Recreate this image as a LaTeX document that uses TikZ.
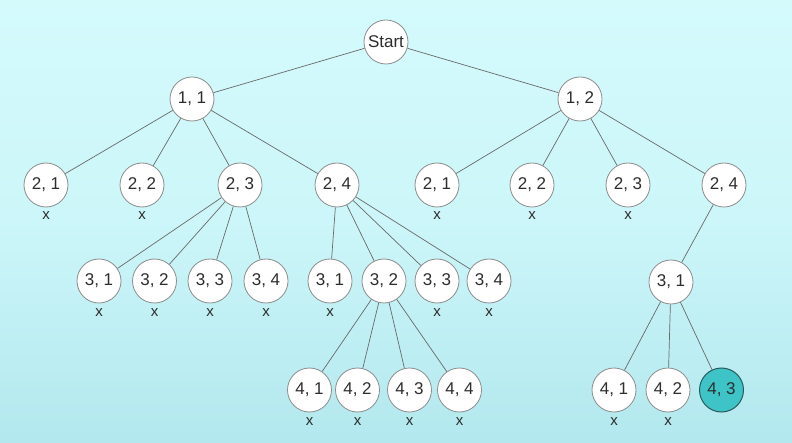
\documentclass[tikz,border=0pt]{standalone}
\usepackage{fontspec}
\setmainfont{Liberation Sans}
\definecolor{bgtop}{RGB}{212,250,252}
\definecolor{bgmid}{RGB}{204,246,249}
\definecolor{bgbot}{RGB}{178,232,238}
\definecolor{edgec}{RGB}{105,105,105}
\definecolor{nodeborder}{RGB}{140,140,140}
\definecolor{txt}{RGB}{45,45,45}
\definecolor{goalfill}{RGB}{62,196,199}
\definecolor{goalborder}{RGB}{40,90,92}
\begin{document}
\begin{tikzpicture}[x=1pt,y=-1pt,
  st/.style={circle,draw=nodeborder,fill=white,line width=0.8pt,minimum size=44pt,inner sep=0pt,font=\fontsize{17}{19}\selectfont,text=txt},
  goal/.style={st,fill=goalfill,draw=goalborder,line width=1pt},
  xm/.style={font=\fontsize{15}{16}\selectfont,text=txt,inner sep=0pt},
  edge/.style={draw=edgec,line width=0.7pt}]
\shade[top color=bgtop,bottom color=bgbot,middle color=bgmid] (0,0) rectangle (792,443);
\useasboundingbox (0,0) rectangle (792,443);
% level 0
\node[st] (s) at (386,42) {Start};
% level 1
\node[st] (a) at (192,99) {1, 1};
\node[st] (b) at (580,99) {1, 2};
% level 2
\node[st] (a1) at (46,185) {2, 1};
\node[st] (a2) at (142,185) {2, 2};
\node[st] (a3) at (240,185) {2, 3};
\node[st] (a4) at (337,185) {2, 4};
\node[st] (b1) at (437,185) {2, 1};
\node[st] (b2) at (532,185) {2, 2};
\node[st] (b3) at (628,185) {2, 3};
\node[st] (b4) at (724,185) {2, 4};
% level 3
\node[st] (c1) at (99,281) {3, 1};
\node[st] (c2) at (154.5,281) {3, 2};
\node[st] (c3) at (210,281) {3, 3};
\node[st] (c4) at (266,281) {3, 4};
\node[st] (d1) at (330,281) {3, 1};
\node[st] (d2) at (384,281) {3, 2};
\node[st] (d3) at (437,281) {3, 3};
\node[st] (d4) at (489,281) {3, 4};
\node[st] (e1) at (671,282) {3, 1};
% level 4
\node[st] (f1) at (309.5,390) {4, 1};
\node[st] (f2) at (357.5,390) {4, 2};
\node[st] (f3) at (409.5,390) {4, 3};
\node[st] (f4) at (459.5,390) {4, 4};
\node[st] (g1) at (614,390) {4, 1};
\node[st] (g2) at (668,390) {4, 2};
\node[goal] (g3) at (721.5,390) {4, 3};
% x marks
\foreach \n/\yy in {a1/216,a2/216,b1/216,b2/216,b3/216,c1/313,c2/313,c3/313,c4/313,d1/313,d3/313,d4/313,f1/422,f2/422,f3/422,f4/422,g1/422,g2/422}{
  \node[xm] (x-\n) at (\n.center |- 0,\yy) {x};
}
% edges
\foreach \p/\c in {s/a,s/b,a/a1,a/a2,a/a3,a/a4,b/b1,b/b2,b/b3,b/b4,a3/c1,a3/c2,a3/c3,a3/c4,a4/d1,a4/d2,a4/d3,a4/d4,b4/e1,d2/f1,d2/f2,d2/f3,d2/f4,e1/g1,e1/g2,e1/g3}{
  \draw[edge] (\p) -- (\c);
}
\end{tikzpicture}
\end{document}
